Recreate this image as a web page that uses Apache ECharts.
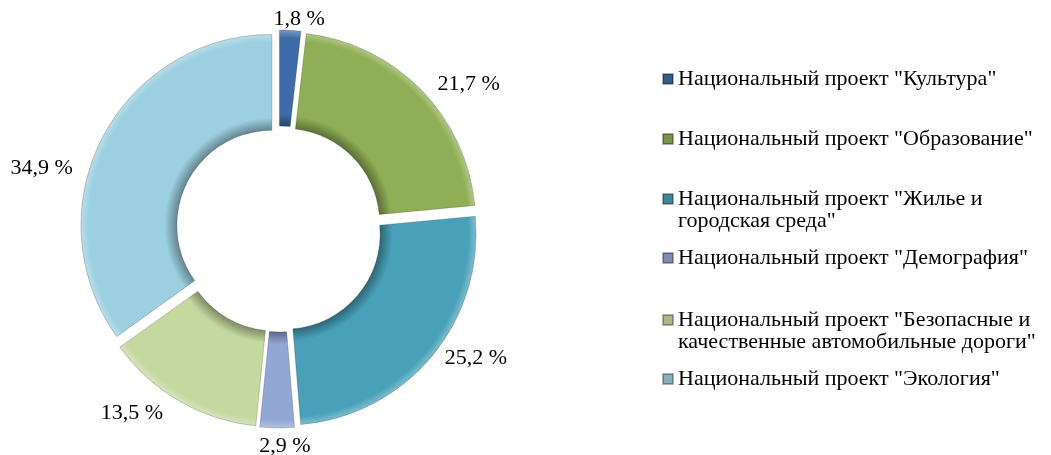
<!DOCTYPE html>
<html>
<head>
<meta charset="utf-8">
<script src="https://cdn.jsdelivr.net/npm/echarts@6/dist/echarts.min.js"></script>
<style>
  html, body { margin: 0; padding: 0; background: #fff; }
  #chart { width: 1051px; height: 455px; }
</style>
</head>
<body>
<div id="chart"></div>
<script>
const projects = [
  'Национальный проект "Культура"',
  'Национальный проект "Образование"',
  'Национальный проект "Жилье и городская среда"',
  'Национальный проект "Демография"',
  'Национальный проект "Безопасные и качественные автомобильные дороги"',
  'Национальный проект "Экология"'
];
const shares = [1.8, 21.7, 25.2, 2.9, 13.5, 34.9];
const colors = ['#3d6ca8', '#8fae55', '#48a1b8', '#93a7d4', '#c4d9a0', '#9ccfe0'];

// layout: legend first-line centres, label nudges from the radial spot
const legendRowY = [77, 137, 197, 256, 318, 377];
const labelNudge = [[7, 21], [24, 17], [19, -21], [8, -16], [-31, -18], [-31, 44]];
const lineH = 22;
const font = '"Liberation Serif", "Times New Roman", serif';
const cx = 279, cy = 229, rOuter = 191, rInner = 95, labelR = 232;

function shade(hex, amt) {
  const n = parseInt(hex.slice(1), 16);
  const r = n >> 16, g = (n >> 8) & 255, b = n & 255;
  const f = c => Math.max(0, Math.min(255, Math.round(amt < 0 ? c * (1 + amt) : c + (255 - c) * amt)));
  return 'rgb(' + f(r) + ',' + f(g) + ',' + f(b) + ')';
}

function ringFill(c) {
  return {
    type: 'radial', x: cx, y: cy, r: rOuter + 8, global: true,
    colorStops: [
      {offset: 0.47, color: shade(c, -0.4)},
      {offset: 0.54, color: c},
      {offset: 0.92, color: c},
      {offset: 0.96, color: shade(c, 0.3)},
      {offset: 1, color: shade(c, -0.25)}
    ]
  };
}

// mid angle of each slice (degrees clockwise from 12 o'clock)
const total = shares.reduce((a, b) => a + b, 0);
let acc = 0;
const midAngles = shares.map(v => {
  const m = (acc + v / 2) / total * 360;
  acc += v;
  return m;
});

const wrapName = name => name.replace(/ и /, ' и\n');
const fmtPct = p => p.value.toFixed(1).replace('.', ',') + ' %';

const legends = projects.map((name, i) => {
  const twoLines = wrapName(name) !== name;
  return {
    data: [{name: name, itemStyle: {color: shade(colors[i], -0.15)}}],
    orient: 'vertical',
    left: 662,
    top: (twoLines ? legendRowY[i] - 1.5 * lineH : legendRowY[i] - lineH / 2) + 2,
    padding: 0,
    itemWidth: 10,
    itemHeight: 10,
    itemGap: 0,
    icon: 'rect',
    selectedMode: false,
    // blank line above keeps the marker level with the first text line
    formatter: n => twoLines ? '\u00a0\n' + wrapName(n) : n,
    textStyle: {fontFamily: font, fontSize: 22, color: '#000', lineHeight: lineH}
  };
});

const ringBase = {
  type: 'pie',
  center: [cx, cy],
  radius: [rInner, rOuter],
  startAngle: 90,
  clockwise: true,
  avoidLabelOverlap: false,
  emphasis: {disabled: true}
};

const chart = echarts.init(document.getElementById('chart'));
chart.setOption({
  animation: false,
  color: colors,
  legend: legends,
  series: [
    // exploded ring
    Object.assign({}, ringBase, {
      selectedMode: 'multiple',
      selectedOffset: 8,
      itemStyle: {borderColor: 'rgba(0,0,0,0.3)', borderWidth: 0.6},
      label: {show: false},
      labelLine: {show: false},
      data: projects.map((name, i) => ({
        name: name,
        value: shares[i],
        selected: true,
        itemStyle: {color: ringFill(colors[i])}
      }))
    }),
    // percentage labels (transparent copy of the ring)
    Object.assign({}, ringBase, {
      silent: true,
      itemStyle: {color: 'rgba(0,0,0,0)'},
      label: {
        show: true,
        position: 'outside',
        fontFamily: font,
        fontSize: 22,
        color: '#000',
        formatter: fmtPct
      },
      labelLine: {show: false},
      labelLayout: p => {
        const a = midAngles[p.dataIndex] * Math.PI / 180;
        const nd = labelNudge[p.dataIndex];
        return {
          x: cx + labelR * Math.sin(a) + nd[0],
          y: cy - labelR * Math.cos(a) + nd[1] + 1,
          align: 'center',
          verticalAlign: 'middle'
        };
      },
      data: projects.map((name, i) => ({name: name, value: shares[i]}))
    })
  ]
});
</script>
</body>
</html>
